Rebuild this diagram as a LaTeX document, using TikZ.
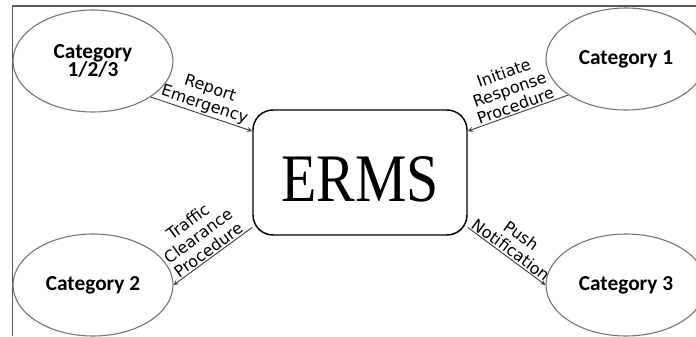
\documentclass[tikz,border=0pt]{standalone}
\usepackage{fontspec}
\usetikzlibrary{arrows,positioning,shapes}

\newfontfamily\catfont{Carlito}
\newfontfamily\linkfont{DejaVu Sans}
\newfontfamily\ermsfont{Liberation Serif}

\begin{document}
\begin{tikzpicture}[x=0.75pt, y=-0.75pt,
  cat/.style={ellipse, draw=black!55, line width=0.8pt, minimum width=120pt,
    minimum height=76.5pt, align=center,
    font=\catfont\bfseries\fontsize{16}{14}\selectfont},
  link/.style={->, >=stealth, draw=black!75, line width=0.7pt},
  lbl/.style={midway, sloped, above, inner sep=1pt, align=center,
    font=\linkfont\fontsize{12}{13}\selectfont}]

\useasboundingbox (0,0) rectangle (696,336);
\draw[black!65, line width=0.9pt] (12.5,336) -- (12.5,6) -- (696,6);

% central system
\node[draw, rounded corners=15pt, line width=1.1pt, minimum width=160.5pt,
  minimum height=93.75pt, text height=44pt] (erms) at (360,172.5)
  {\ermsfont\fontsize{51}{51}\selectfont\scalebox{0.85}[1]{ERMS}};

% categories
\node[cat] (c123) at (93,61) {Category\\1/2/3};
\node[cat] (c1) at (626,59) {Category 1};
\node[cat] (c2) at (93,285) {Category 2};
\node[cat] (c3) at (626,285) {Category 3};

\draw[link] (c123.-32) -- node[lbl] {Report\\Emergency} (erms.159);
\draw[link, <-] (erms.21) -- node[lbl] {Initiate\\Response\\Procedure} (c1.212);
\draw[link, <-] (c2.east) -- node[lbl] {Traffic\\Clearance\\Procedure} (erms.207);
\draw[link] (erms.333) -- node[lbl] {Push\\Notification} (c3.west);

\end{tikzpicture}
\end{document}
